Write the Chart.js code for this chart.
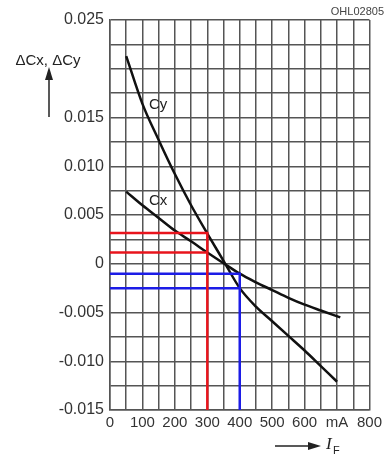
<!DOCTYPE html>
<html>
<head>
<meta charset="utf-8">
<script src="https://cdn.jsdelivr.net/npm/chart.js@4/dist/chart.umd.min.js"></script>
<style>
  body { margin: 0; background: #fff; }
  #wrap { width: 386px; height: 457px; }
</style>
</head>
<body>
<div id="wrap"><canvas id="chart" width="386" height="457"></canvas></div>
<script>
// forward current in mA
const cyCurrents = [50, 100, 150, 200, 250, 300, 350, 400, 450, 500, 550, 600, 650, 700];
const deltaCy = [0.0213, 0.0164, 0.0127, 0.0092, 0.0060, 0.0031, 0.0003, -0.0025, -0.0044, -0.0059, -0.0074, -0.0089, -0.0105, -0.0121];
const cxCurrents = [50, 100, 150, 200, 250, 300, 350, 400, 450, 500, 550, 600, 650, 710];
const deltaCx = [0.0074, 0.0060, 0.0047, 0.0034, 0.0023, 0.00115, 0.00005, -0.00102, -0.0019, -0.0027, -0.0035, -0.0042, -0.0048, -0.0055];

// reading guides at 300 mA (red) and 400 mA (blue)
const redCurrent = 300;
const redValues = [0.00315, 0.00115];
const blueCurrent = 400;
const blueValues = [-0.00102, -0.0025];

const xMin = 0, xMax = 800, xStep = 50;
const yMin = -0.015, yMax = 0.025, yStep = 0.0025;

const toPoints = (xs, ys) => xs.map((x, i) => ({ x: x, y: ys[i] }));

function guideSets(current, values, color) {
    return [
        { data: [{ x: 0, y: values[0] }, { x: current, y: values[0] }, { x: current, y: yMin }], borderColor: color, borderWidth: 2.5, pointRadius: 0, tension: 0 },
        { data: [{ x: 0, y: values[1] }, { x: current, y: values[1] }], borderColor: color, borderWidth: 2.5, pointRadius: 0, tension: 0 }
    ];
}

const textFont = "'Liberation Sans', Arial, sans-serif";

const labelsPlugin = {
    id: 'labels',
    afterDraw(chart) {
        const ctx = chart.ctx;
        const xs = chart.scales.x, ys = chart.scales.y;
        ctx.save();
        ctx.fillStyle = '#222';
        ctx.strokeStyle = '#222';
        ctx.textBaseline = 'middle';

        // curve labels
        ctx.font = '15px ' + textFont;
        ctx.textAlign = 'left';
        ctx.fillText('Cy', xs.getPixelForValue(120), ys.getPixelForValue(0.0163));
        ctx.fillText('Cx', xs.getPixelForValue(120), ys.getPixelForValue(0.0064));

        // y axis title with arrow
        ctx.font = '15px ' + textFont;
        ctx.textAlign = 'center';
        ctx.fillText('\u0394Cx, \u0394Cy', 48, 61);
        ctx.lineWidth = 1.5;
        ctx.beginPath();
        ctx.moveTo(49, 117);
        ctx.lineTo(49, 76);
        ctx.stroke();
        ctx.beginPath();
        ctx.moveTo(49, 67);
        ctx.lineTo(45, 80);
        ctx.lineTo(53, 80);
        ctx.closePath();
        ctx.fill();

        // x axis title with arrow
        ctx.beginPath();
        ctx.moveTo(275, 446);
        ctx.lineTo(310, 446);
        ctx.stroke();
        ctx.beginPath();
        ctx.moveTo(321, 446);
        ctx.lineTo(308, 442);
        ctx.lineTo(308, 450);
        ctx.closePath();
        ctx.fill();
        ctx.textAlign = 'left';
        ctx.font = 'italic 17px "Liberation Serif", "Times New Roman", serif';
        ctx.fillText('I', 326, 445);
        ctx.font = '11px ' + textFont;
        ctx.fillText('F', 333, 451);

        // figure id
        ctx.font = '11px ' + textFont;
        ctx.textAlign = 'right';
        ctx.fillStyle = '#444';
        ctx.fillText('OHL02805', 384, 12);
        ctx.restore();
    }
};

const gridColor = '#555';

new Chart(document.getElementById('chart'), {
    type: 'line',
    data: {
        datasets: [
            ...guideSets(redCurrent, redValues, '#e8141c'),
            ...guideSets(blueCurrent, blueValues, '#1c1ce6'),
            { data: toPoints(cyCurrents, deltaCy), borderColor: '#111', borderWidth: 2.5, pointRadius: 0, cubicInterpolationMode: 'monotone' },
            { data: toPoints(cxCurrents, deltaCx), borderColor: '#111', borderWidth: 2.5, pointRadius: 0, cubicInterpolationMode: 'monotone' }
        ]
    },
    options: {
        responsive: false,
        animation: false,
        layout: { padding: { left: 0, top: 20, right: 15, bottom: 0 } },
        plugins: { legend: { display: false }, tooltip: { enabled: false } },
        scales: {
            x: {
                type: 'linear',
                min: xMin, max: xMax,
                grid: { color: gridColor, lineWidth: 1.5, drawTicks: false },
                border: { color: gridColor, width: 1.5 },
                afterFit: s => { s.height = 47; },
                ticks: {
                    stepSize: xStep, autoSkip: false, maxRotation: 0, padding: 4,
                    color: '#333', font: { family: textFont, size: 15 },
                    callback: v => {
                        if (Math.round(v / xStep) % 2 !== 0) return '';
                        if (v === 700) return 'mA';
                        return String(v);
                    }
                }
            },
            y: {
                min: yMin, max: yMax,
                grid: { color: gridColor, lineWidth: 1.5, drawTicks: false },
                border: { color: gridColor, width: 1.5 },
                afterFit: s => { s.width = 110; },
                ticks: {
                    stepSize: yStep, autoSkip: false, padding: 6,
                    color: '#333', font: { family: textFont, size: 16 },
                    callback: v => {
                        const k = Math.round(v / yStep);
                        if (k % 2 !== 0 || k === 8) return '';
                        return k === 0 ? '0' : (k * yStep).toFixed(3);
                    }
                }
            }
        }
    },
    plugins: [labelsPlugin]
});
</script>
</body>
</html>
